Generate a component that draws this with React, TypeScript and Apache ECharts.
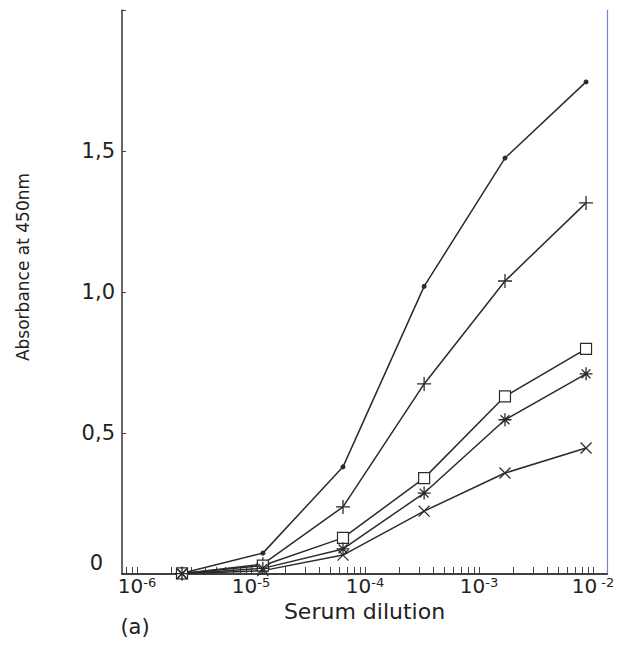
import React, { useEffect, useRef } from "react";
import * as echarts from "echarts";

// Serum dilution (x, log scale)
const dilutions = [2.48e-6, 1.27e-5, 6.41e-5, 3.3e-4, 1.69e-3, 8.69e-3];
// Absorbance at 450nm for each serum
const seriesDot = [0.003, 0.074, 0.38, 1.02, 1.475, 1.745];
const seriesPlus = [0.002, 0.035, 0.238, 0.674, 1.039, 1.316];
const seriesSquare = [0.002, 0.03, 0.128, 0.34, 0.63, 0.798];
const seriesStar = [0.001, 0.02, 0.089, 0.287, 0.547, 0.71];
const seriesCross = [0.001, 0.012, 0.067, 0.223, 0.358, 0.447];

const yTickLabels = ["0", "0,5", "1,0", "1,5"];
const xDecades = [-6, -5, -4, -3, -2];

const X_MIN = 7.38e-7;
const X_MAX = 0.01327;

const FONT = "DejaVu Sans";
const INK = "#2b2b2b";

const minorTickValues: number[] = [];
for (let e = -7; e <= -2; e++) {
  for (let k = 1; k <= 9; k++) {
    const v = k * Math.pow(10, e);
    if (v > X_MIN * 1.01 && v < X_MAX * 0.99) minorTickValues.push(v);
  }
}

const PLUS = "path://M5,0L5,10M0,5L10,5";
const STAR = "path://M5,0L5,10M0,5L10,5M1.6,1.6L8.4,8.4M1.6,8.4L8.4,1.6";
const CROSS = "path://M0,0L10,10M0,10L10,0";

function pairs(ys: number[]) {
  return dilutions.map((x, i) => [x, ys[i]]);
}

export default function App() {
  const ref = useRef<HTMLDivElement>(null);
  useEffect(() => {
    if (!ref.current) return;
    const chart = echarts.init(ref.current, null, { renderer: "svg" });
    const lineStyle = { color: INK, width: 1.5 };
    const openItem = { color: "none", borderColor: INK, borderWidth: 1.3 };
    chart.setOption({
      animation: false,
      backgroundColor: "#fff",
      grid: { left: 122, top: 10, right: 22, bottom: 71 },
      xAxis: [
        {
          type: "log",
          min: X_MIN,
          max: X_MAX,
          name: "Serum dilution",
          nameLocation: "middle",
          nameGap: 26,
          nameMoveOverlap: false,
          nameTextStyle: { fontFamily: FONT, fontSize: 22, color: "#222" },
          axisLine: { show: true, lineStyle: { color: "#333", width: 1.5 } },
          axisTick: {
            show: true,
            inside: true,
            length: 7,
            customValues: minorTickValues,
            lineStyle: { color: "#444", width: 1 },
          },
          axisLabel: {
            margin: 2,
            customValues: xDecades.map((e) => Math.pow(10, e)),
            formatter: (v: number) => {
              const l = Math.log10(v);
              const e = Math.round(l);
              if (Math.abs(l - e) > 0.01 || xDecades.indexOf(e) < 0) return "";
              return e === -2 ? "{b|10}{s| " + e + "}" : "{b|10}{s|" + e + "}";
            },
            rich: {
              b: { fontFamily: FONT, fontSize: 20, color: "#222", lineHeight: 20 },
              s: { fontFamily: FONT, fontSize: 13, color: "#222", verticalAlign: "top", lineHeight: 12 },
            },
          },
          splitLine: { show: false },
          minorTick: { show: false },
        },
        {
          type: "log",
          position: "top",
          min: X_MIN,
          max: X_MAX,
          axisLine: { show: true, lineStyle: { color: "#333", width: 1.5 } },
          axisTick: { show: false },
          axisLabel: { show: false },
          splitLine: { show: false },
        },
      ],
      yAxis: [
        {
          type: "value",
          min: 0,
          max: 2,
          interval: 0.5,
          axisLine: { show: true, lineStyle: { color: "#333", width: 1.5 } },
          axisTick: { show: true, inside: true, length: 4, lineStyle: { color: "#444" } },
          axisLabel: {
            margin: 7,
            fontFamily: FONT,
            fontSize: 21,
            color: "#222",
            formatter: (v: number) => {
              const i = Math.round(v / 0.5);
              if (i >= yTickLabels.length) return "";
              return i === 0 ? "{z|" + yTickLabels[0] + "}" : yTickLabels[i];
            },
            rich: {
              z: { fontFamily: FONT, fontSize: 21, color: "#222", padding: [0, 12, 22, 0] },
            },
          },
          splitLine: { show: false },
        },
        {
          type: "value",
          position: "right",
          min: 0,
          max: 2,
          axisLine: { show: true, lineStyle: { color: "#7484d4", width: 1.2 } },
          axisTick: { show: false },
          axisLabel: { show: false },
          splitLine: { show: false },
        },
      ],
      graphic: [
        {
          type: "text",
          x: 23,
          y: 267,
          rotation: Math.PI / 2,
          style: {
            text: "Absorbance at 450nm",
            fontFamily: FONT,
            fontSize: 17,
            fill: "#222",
            align: "center",
            verticalAlign: "middle",
          },
        },
        {
          type: "text",
          x: 135,
          y: 627,
          style: {
            text: "(a)",
            fontFamily: FONT,
            fontSize: 21,
            fill: "#222",
            align: "center",
            verticalAlign: "middle",
          },
        },
      ],
      series: [
        {
          type: "line",
          data: pairs(seriesDot),
          symbol: "circle",
          symbolSize: 5,
          itemStyle: { color: INK },
          lineStyle,
          z: 3,
        },
        {
          type: "line",
          data: pairs(seriesPlus),
          symbol: PLUS,
          symbolSize: 14,
          itemStyle: openItem,
          lineStyle,
        },
        {
          type: "line",
          data: pairs(seriesSquare),
          symbol: "rect",
          symbolSize: 11,
          itemStyle: { color: "#fff", borderColor: INK, borderWidth: 1.2 },
          lineStyle,
        },
        {
          type: "line",
          data: pairs(seriesStar),
          symbol: STAR,
          symbolSize: 13,
          itemStyle: openItem,
          lineStyle,
        },
        {
          type: "line",
          data: pairs(seriesCross),
          symbol: CROSS,
          symbolSize: 11,
          itemStyle: openItem,
          lineStyle,
        },
      ],
    });
    return () => chart.dispose();
  }, []);
  return <div ref={ref} style={{ width: 629, height: 645, margin: -8 }} />;
}
